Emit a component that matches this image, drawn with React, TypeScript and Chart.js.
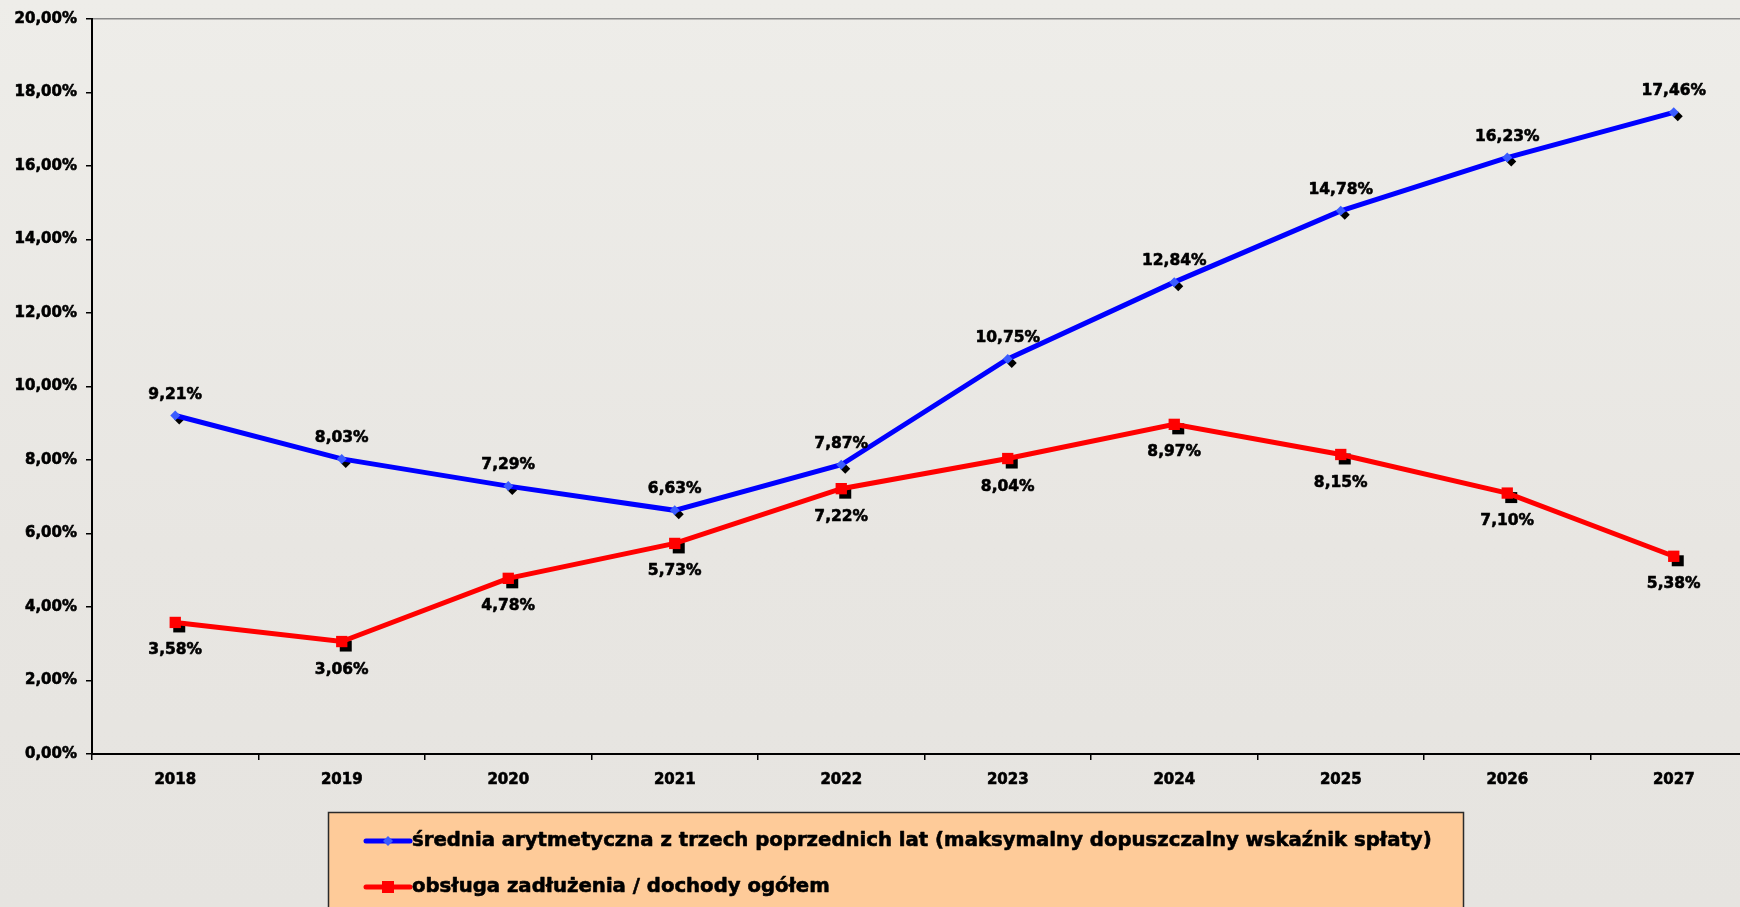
import React, { useEffect, useRef } from "react";
import { Chart, registerables } from "chart.js";

Chart.register(...registerables);

const years = ["2018", "2019", "2020", "2021", "2022", "2023", "2024", "2025", "2026", "2027"];
const avgValues = [9.21, 8.03, 7.29, 6.63, 7.87, 10.75, 12.84, 14.78, 16.23, 17.46];
const debtValues = [3.58, 3.06, 4.78, 5.73, 7.22, 8.04, 8.97, 8.15, 7.1, 5.38];
const seriesLabels = [
  "średnia arytmetyczna z trzech poprzednich lat (maksymalny dopuszczalny wskaźnik spłaty)",
  "obsługa zadłużenia / dochody ogółem",
];
const yMin = 0;
const yMax = 20;
const yStep = 2;

const FONT = "'DejaVu Sans', Verdana, sans-serif";
const fmt = (v: number) => v.toFixed(2).replace(".", ",") + "%";

const boldText = (ctx: any, text: string, x: number, y: number) => {
  ctx.lineWidth = 0.6;
  ctx.strokeStyle = "#000";
  ctx.lineJoin = "round";
  ctx.strokeText(text, x, y);
  ctx.fillText(text, x, y);
};

const shadowPlugin = {
  id: "markerShadow",
  beforeDatasetsDraw(chart: any) {
    const ctx = chart.ctx;
    ctx.save();
    ctx.fillStyle = "#000";
    chart.data.datasets.forEach((ds: any, i: number) => {
      const meta = chart.getDatasetMeta(i);
      meta.data.forEach((pt: any) => {
        const x = pt.x + 4;
        const y = pt.y + 4;
        ctx.beginPath();
        if (ds.pointStyle === "rectRot") {
          const r = 5;
          ctx.moveTo(x, y - r);
          ctx.lineTo(x + r, y);
          ctx.lineTo(x, y + r);
          ctx.lineTo(x - r, y);
          ctx.closePath();
        } else {
          ctx.rect(x - 6, y - 5, 12, 11);
        }
        ctx.fill();
      });
    });
    ctx.restore();
  },
};

const labelPlugin = {
  id: "valueLabels",
  afterDatasetsDraw(chart: any) {
    const ctx = chart.ctx;
    ctx.save();
    ctx.font = `bold 15.5px ${FONT}`;
    ctx.fillStyle = "#000";
    ctx.textAlign = "center";
    ctx.textBaseline = "middle";
    chart.data.datasets.forEach((ds: any, i: number) => {
      const meta = chart.getDatasetMeta(i);
      const dy = i === 0 ? -21 : 28;
      meta.data.forEach((pt: any, j: number) => {
        boldText(ctx, fmt(ds.data[j]), pt.x, pt.y + dy);
      });
    });
    ctx.restore();
  },
};

const legendPlugin = {
  id: "boxLegend",
  afterDraw(chart: any) {
    const ctx = chart.ctx;
    ctx.save();
    ctx.fillStyle = "#fecb99";
    ctx.strokeStyle = "#2a2a2a";
    ctx.lineWidth = 1.5;
    ctx.fillRect(328, 812, 1135, 120);
    ctx.strokeRect(328.5, 812.5, 1135, 120);
    const rows = [841, 887];
    chart.data.datasets.forEach((ds: any, i: number) => {
      const y = rows[i];
      ctx.strokeStyle = ds.borderColor;
      ctx.lineWidth = 5;
      ctx.lineCap = "round";
      ctx.beginPath();
      ctx.moveTo(366, y);
      ctx.lineTo(410, y);
      ctx.stroke();
      ctx.fillStyle = ds.pointBackgroundColor;
      ctx.beginPath();
      if (ds.pointStyle === "rectRot") {
        ctx.moveTo(388, y - 5);
        ctx.lineTo(393, y);
        ctx.lineTo(388, y + 5);
        ctx.lineTo(383, y);
        ctx.closePath();
      } else {
        ctx.rect(382, y - 6, 12, 12);
      }
      ctx.fill();
      ctx.fillStyle = "#000";
      ctx.font = `bold 19.7px ${FONT}`;
      ctx.textAlign = "left";
      ctx.textBaseline = "middle";
      boldText(ctx, ds.label, 412, y);
    });
    ctx.restore();
  },
};

export default function App() {
  const ref = useRef<HTMLCanvasElement | null>(null);

  useEffect(() => {
    if (!ref.current) return;
    const chart = new Chart(ref.current, {
      type: "line",
      data: {
        labels: years,
        datasets: [
          {
            label: seriesLabels[0],
            data: avgValues,
            borderColor: "#0000ff",
            borderWidth: 5,
            pointStyle: "rectRot",
            pointRadius: 5,
            pointBackgroundColor: "#3a5cff",
            pointBorderWidth: 0,
            tension: 0,
          },
          {
            label: seriesLabels[1],
            data: debtValues,
            borderColor: "#ff0000",
            borderWidth: 5,
            pointStyle: "rect",
            pointRadius: 8,
            pointBackgroundColor: "#ff0000",
            pointBorderWidth: 0,
            tension: 0,
          },
        ],
      } as any,
      options: {
        animation: false,
        responsive: false,
        maintainAspectRatio: false,
        layout: { padding: { top: 19, bottom: 113, left: 0, right: 0 } },
        plugins: {
          legend: { display: false },
          tooltip: { enabled: false },
        },
        scales: {
          x: {
            offset: true,
            grid: {
              offset: true,
              drawOnChartArea: false,
              tickLength: 6,
              color: "#000",
              lineWidth: 1.5,
            },
            border: { color: "#000", width: 2 },
            ticks: {
              color: "#000",
              font: { family: FONT, weight: "bold", size: 15 },
              textStrokeColor: "#000",
              textStrokeWidth: 0.6,
              padding: 11,
              maxRotation: 0,
              autoSkip: false,
            },
            afterFit: (s: any) => {
              s.height = 40;
            },
          },
          y: {
            min: yMin,
            max: yMax,
            ticks: {
              stepSize: yStep,
              color: "#000",
              font: { family: FONT, weight: "bold", size: 15 },
              textStrokeColor: "#000",
              textStrokeWidth: 0.6,
              padding: 9,
              callback: (v: any) => fmt(Number(v)),
            },
            grid: {
              color: (c: any) => (c.tick && c.tick.value === yMax ? "#8a8a8a" : "rgba(0,0,0,0)"),
              tickColor: "#000",
              tickLength: 6,
              lineWidth: 1.5,
            },
            border: { color: "#000", width: 2 },
            afterFit: (s: any) => {
              s.width = 92;
            },
          },
        },
      } as any,
      plugins: [shadowPlugin, labelPlugin, legendPlugin],
    });
    return () => chart.destroy();
  }, []);

  return (
    <div
      style={{
        position: "fixed",
        left: 0,
        top: 0,
        width: 1740,
        height: 907,
        overflow: "hidden",
        background: "linear-gradient(180deg, #eeede9 0%, #e8e6e2 60%, #e6e4e0 100%)",
      }}
    >
      <canvas ref={ref} width={1765} height={907} style={{ display: "block", width: 1765, height: 907 }} />
    </div>
  );
}
